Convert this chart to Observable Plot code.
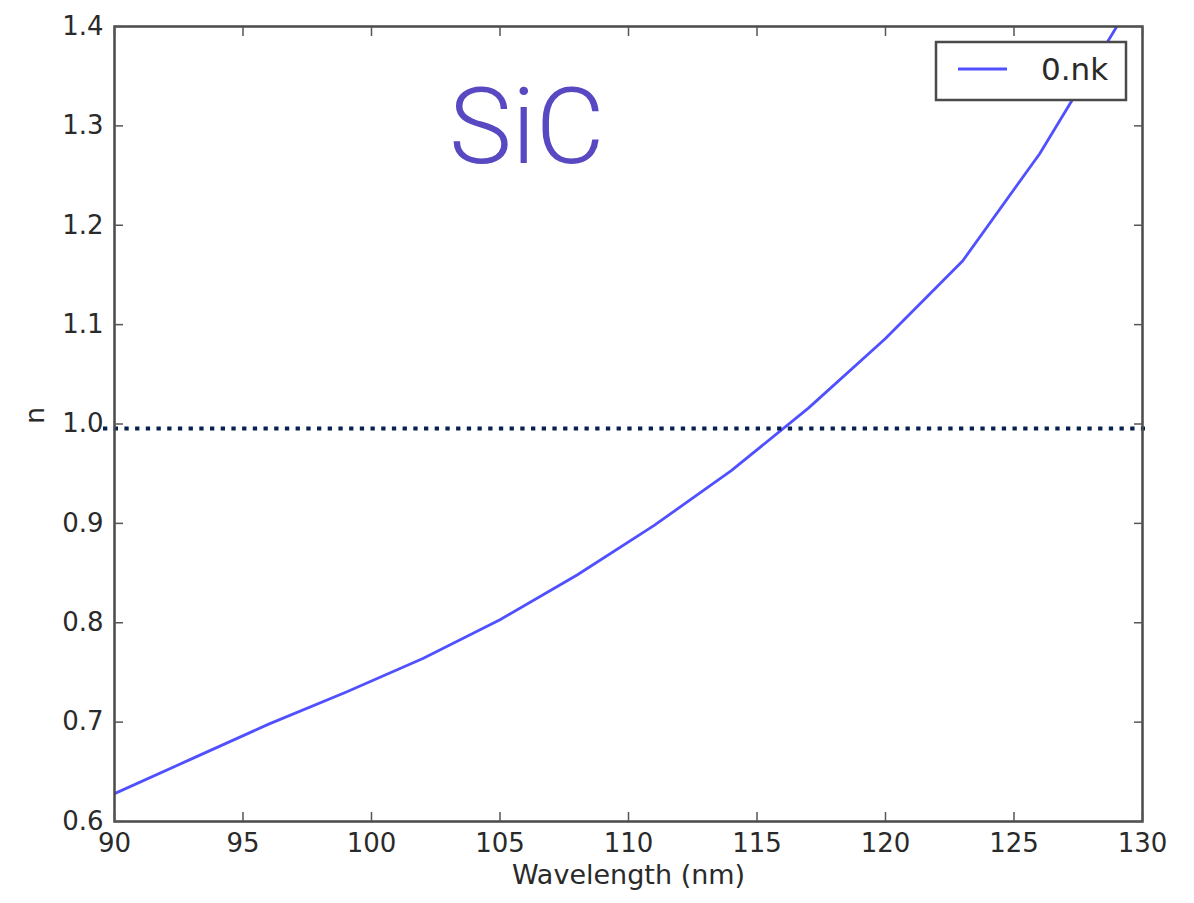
<!DOCTYPE html>
<html><head><meta charset="utf-8">
<script src="https://cdn.jsdelivr.net/npm/d3@7"></script>
<script src="https://cdn.jsdelivr.net/npm/@observablehq/plot@0.6"></script>
<style>body{margin:0;background:#fff;}</style>
</head><body><div id="chart"></div>
<script>
const wavelength = [90, 93, 96, 99, 102, 105, 108, 111, 114, 117, 120, 123, 126, 129];
const nValues = [0.628, 0.663, 0.698, 0.730, 0.764, 0.803, 0.848, 0.898, 0.953, 1.016, 1.086, 1.164, 1.272, 1.400];
const xTicks = [90, 95, 100, 105, 110, 115, 120, 125, 130];
const yTicks = [0.6, 0.7, 0.8, 0.9, 1.0, 1.1, 1.2, 1.3, 1.4];
const refLine = [1.0];
const seriesName = "0.nk";
const materialLabel = "SiC";
const xLabel = "Wavelength (nm)";
const yLabel = "n";

const data = wavelength.map((w, i) => ({wavelength: w, n: nValues[i]}));
const tickStyle = {stroke: "#555", strokeWidth: 1.5, fill: "none", label: null, tickSize: -9};
const textStyle = {tickSize: 0, label: null, fill: "#2a2a2a"};

const plot = Plot.plot({
  width: 1194, height: 903,
  marginLeft: 114, marginRight: 52, marginTop: 26, marginBottom: 82,
  x: {domain: [90, 130]},
  y: {domain: [0.6, 1.4]},
  style: {fontFamily: "DejaVu Sans", fontSize: "26px", background: "#fff", color: "#2a2a2a"},
  marks: [
    Plot.line(data, {x: "wavelength", y: "n", stroke: "#5050ff", strokeWidth: 2.8, clip: true}),
    Plot.ruleY(refLine, {stroke: "#06214f", strokeWidth: 4, strokeDasharray: "4.3,6.4", insetLeft: -11, insetRight: -3, dy: 4.5}),
    Plot.frame({stroke: "#4a4a4a", strokeWidth: 2.5}),
    Plot.axisX(xTicks, {anchor: "bottom", ...tickStyle}),
    Plot.axisX(xTicks, {anchor: "top", ...tickStyle}),
    Plot.axisY(yTicks, {anchor: "left", ...tickStyle}),
    Plot.axisY(yTicks, {anchor: "right", ...tickStyle}),
    Plot.axisX(xTicks, {anchor: "bottom", tickPadding: 12, ...textStyle}),
    Plot.axisY(yTicks, {anchor: "left", tickPadding: 11, tickFormat: ".1f", ...textStyle}),
    Plot.text([xLabel], {frameAnchor: "bottom", dy: 62, fill: "#2a2a2a", fontSize: 27}),
    Plot.text([yLabel], {frameAnchor: "left", dx: -79, rotate: -90, fill: "#2a2a2a", fontSize: 27})
  ]
});

const svg = d3.select(plot);
svg.append("text")
  .attr("x", 449).attr("y", 163).attr("text-anchor", "start")
  .attr("font-family", "Roboto").attr("font-weight", 300).attr("font-size", 106)
  .attr("fill", "#5849c2")
  .text(materialLabel);
const lg = svg.append("g");
lg.append("rect").attr("x", 936).attr("y", 42).attr("width", 190).attr("height", 58)
  .attr("fill", "#fff").attr("stroke", "#4a4a4a").attr("stroke-width", 2.5);
lg.append("line").attr("x1", 958).attr("x2", 1007).attr("y1", 69).attr("y2", 69)
  .attr("stroke", "#5050ff").attr("stroke-width", 2.8);
lg.append("text").attr("x", 1041).attr("y", 69).attr("dy", "0.35em").attr("text-anchor", "start")
  .attr("font-family", "DejaVu Sans").attr("font-size", 31).attr("fill", "#2a2a2a")
  .text(seriesName);

document.getElementById("chart").appendChild(plot);
</script>
</body></html>
